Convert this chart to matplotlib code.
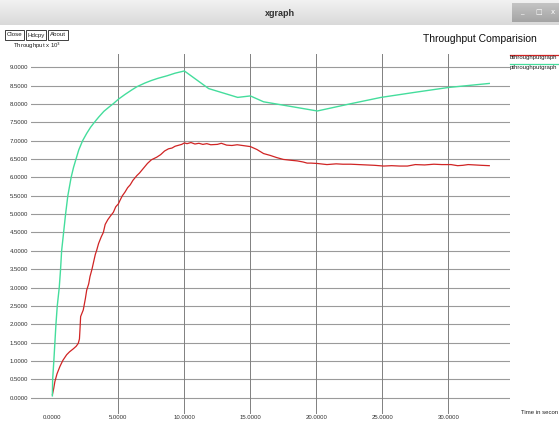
import matplotlib
matplotlib.use("Agg")
import matplotlib.pyplot as plt
from matplotlib.patches import Rectangle
import numpy as np

# ---- data ----
t_p = [0, 0.02, 0.11, 0.19, 0.27, 0.37, 0.52, 0.62, 0.70, 0.85, 1.0, 1.17, 1.42,
       1.6, 1.79, 2.0, 2.29, 2.6, 2.9, 3.18, 3.5, 3.9, 4.3, 4.62, 5.0, 5.5, 6.0,
       6.4, 7.0, 7.5, 8.0, 8.7, 9.3, 10.0, 11.84, 14.04, 15.0, 16.0,
       20.07, 22.5, 24.9, 27.5, 30.0, 33.1]
v_p = [0.05, 0.5, 1.0, 1.5, 2.0, 2.5, 3.0, 3.5, 4.0, 4.5, 5.0, 5.5, 6.0,
       6.27, 6.5, 6.75, 7.0, 7.2, 7.37, 7.5, 7.64, 7.8, 7.92, 8.01, 8.13, 8.26, 8.38,
       8.47, 8.57, 8.64, 8.7, 8.77, 8.84, 8.9, 8.42, 8.18, 8.22, 8.06,
       7.81, 8.0, 8.18, 8.32, 8.45, 8.56]

t_b = [0, 0.1, 0.19, 0.35, 0.57, 0.8, 1.08, 1.3, 1.58, 1.8, 1.96, 2.05, 2.09, 2.14,
       2.34, 2.5, 2.6, 2.75, 2.85, 3.0, 3.1, 3.25, 3.36, 3.5, 3.7, 3.86, 4.0, 4.2,
       4.4, 4.62, 4.8, 5.0, 5.13, 5.3, 5.5, 5.7, 5.9, 6.1, 6.4, 6.6, 6.9, 7.2, 7.5,
       7.9, 8.2, 8.5, 8.8, 9.06, 9.3, 9.6, 9.8, 10.0, 10.2, 10.5, 10.8, 11.1, 11.4,
       11.7, 12.0, 12.5, 12.8, 13.2, 13.6, 14.0, 14.6, 15.0, 15.5, 16.0, 16.5, 17.0,
       17.5, 18.0, 18.55, 19.0, 19.3, 19.6, 20.07, 20.8, 21.5, 22.0, 22.6, 23.2,
       23.8, 24.4, 25.1, 25.7, 26.3, 26.9, 27.5, 28.2, 28.9, 29.5, 30.2, 30.7, 31.1,
       31.5, 32.0, 32.5, 33.1]
v_b = [0.08, 0.25, 0.44, 0.65, 0.85, 1.02, 1.17, 1.25, 1.33, 1.4, 1.48, 1.6, 1.85,
       2.21, 2.39, 2.7, 2.93, 3.1, 3.30, 3.5, 3.66, 3.9, 4.02, 4.2, 4.38, 4.5, 4.72,
       4.85, 4.95, 5.05, 5.2, 5.28, 5.38, 5.5, 5.6, 5.72, 5.8, 5.92, 6.05, 6.12,
       6.25, 6.38, 6.48, 6.55, 6.62, 6.72, 6.78, 6.8, 6.85, 6.88, 6.9, 6.94, 6.92,
       6.95, 6.91, 6.93, 6.9, 6.92, 6.89, 6.9, 6.93, 6.88, 6.87, 6.89, 6.86, 6.84,
       6.76, 6.65, 6.6, 6.54, 6.49, 6.47, 6.45, 6.42, 6.39, 6.39, 6.38, 6.35, 6.37,
       6.36, 6.36, 6.35, 6.34, 6.33, 6.31, 6.32, 6.31, 6.31, 6.35, 6.34, 6.36, 6.35,
       6.35, 6.32, 6.33, 6.35, 6.34, 6.33, 6.32]

x_ticks = [0, 5, 10, 15, 20, 25, 30]
y_ticks = [0, 0.5, 1, 1.5, 2, 2.5, 3, 3.5, 4, 4.5, 5, 5.5, 6, 6.5, 7, 7.5, 8, 8.5, 9]
x_tick_labels = ["%.4f" % v for v in x_ticks]
y_tick_labels = ["%.4f" % v for v in y_ticks]

series_names = ["bthroughputgraph", "pthroughputgraph"]
title = "Throughput Comparision"
y_label = "Throughput x 10$^3$"
x_label = "Time in secon"

RED = "#d02424"
GREEN = "#44dd9c"

W, H = 559, 421
fig = plt.figure(figsize=(W / 100, H / 100), dpi=100)
fig.patch.set_facecolor("white")
plt.rcParams["font.family"] = ["Liberation Sans", "DejaVu Sans"]

# overlay in pixel coords for window chrome
ov = fig.add_axes([0, 0, 1, 1], zorder=0)
ov.axis("off")

grad = np.linspace(0, 1, 50).reshape(-1, 1)
ov.imshow(grad, extent=[0, W, 25, 0], cmap=matplotlib.colors.LinearSegmentedColormap.from_list(
    "g", ["#f2f2f2", "#d9d9d9"]), aspect="auto", zorder=1)
ov.text(280, 13, "xgraph", ha="center", va="center", fontsize=6.5, fontweight="bold",
        color="#303030", zorder=3)
for (x0, x1, sym) in [(512, 531, "_"), (531, 546, "□"), (546, 559, "x")]:
    ov.imshow(grad, extent=[x0, x1, 22, 3], cmap=matplotlib.colors.LinearSegmentedColormap.from_list(
        "b", ["#c4c4c4", "#a4a4a4"]), aspect="auto", zorder=2)
    ov.text((x0 + x1) / 2, 12, sym, ha="center", va="center", fontsize=5, color="white",
            zorder=3, family=["DejaVu Sans"])
ov.set_xlim(0, W)
ov.set_ylim(H, 0)

for (x0, x1, lab) in [(5, 23.5, "Close"), (25.7, 46.3, "Hdcpy"), (48, 67.7, "About")]:
    ov.add_patch(Rectangle((x0, 29.6), x1 - x0, 10.4, fill=False, edgecolor="#202020", lw=0.6, zorder=3))
    ov.text((x0 + x1) / 2, 35, lab, ha="center", va="center", fontsize=4.4, color="#202020", zorder=3)

ov.text(13, 46, y_label, ha="left", va="center", fontsize=4.3, color="#202020")
ov.text(537, 39, title, ha="right", va="center", fontsize=7.5, color="#101010")
ov.text(521, 413, x_label, ha="left", va="center", fontsize=4.3, color="#202020")

leg_y = [54.5, 64]
for name, col, ly in zip(series_names, [RED, GREEN], leg_y):
    ov.plot([510, 559], [ly, ly], color=col, lw=0.9)
    ov.text(510, ly + 3.5, name, ha="left", va="center", fontsize=4.3, color="#202020")

# ---- main plot ----
left_px, right_px, top_px, bot_px = 31, 510, 54, 414
ax = fig.add_axes([left_px / W, (H - bot_px) / H, (right_px - left_px) / W, (bot_px - top_px) / H],
                  zorder=2)
ax.patch.set_alpha(0)
ax.set_xlim(-1.62, 34.67)
ax.set_ylim(-0.444, 9.362)
for s in ax.spines.values():
    s.set_visible(False)

for yv in y_ticks:
    ax.axhline(yv, color="#9a9a9a", lw=0.8, zorder=1)
for xv in x_ticks[1:]:
    ax.axvline(xv, color="#808080", lw=0.7, zorder=1)

ax.plot(t_b, v_b, color=RED, lw=0.9, zorder=3)
ax.plot(t_p, v_p, color=GREEN, lw=1.0, zorder=3)

ax.set_xticks(x_ticks)
ax.set_xticklabels(x_tick_labels, fontsize=4.3, color="#303030")
ax.set_yticks(y_ticks)
ax.set_yticklabels(y_tick_labels, fontsize=4.3, color="#303030")
ax.tick_params(axis="both", length=0)
ax.tick_params(axis="y", pad=2.2)
ax.tick_params(axis="x", pad=0.8)

fig.savefig("out.png", dpi=100)
